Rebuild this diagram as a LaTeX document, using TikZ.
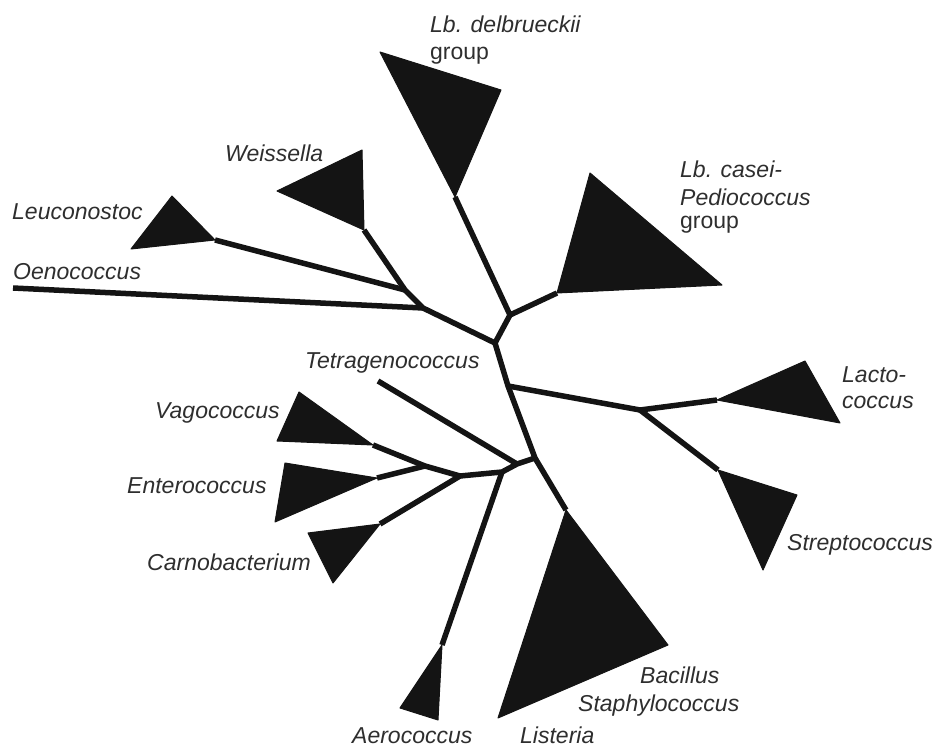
\documentclass[tikz,border=0pt]{standalone}
\usepackage{fontspec}
\setmainfont{Liberation Sans}
\begin{document}
\begin{tikzpicture}[x=1pt,y=-1pt,
  branch/.style={line width=5.5pt,draw=black!92,line cap=butt,line join=round},
  clade/.style={fill=black!92,draw=black!92,line width=1pt,line join=round},
  lab/.style={anchor=base west,inner sep=0pt,text=black!82,font=\fontsize{23}{28}\selectfont\itshape},
  labu/.style={anchor=base west,inner sep=0pt,text=black!82,font=\fontsize{23}{28}\selectfont}]
\useasboundingbox (0,0) rectangle (938,746);
% junctions
\coordinate (Jdel) at (510,315);
\coordinate (Jtop) at (495,343);
\coordinate (Joen) at (423,308);
\coordinate (Jleu) at (405,290);
\coordinate (Jlac) at (508,386);
\coordinate (Jlow) at (535,458);
\coordinate (Jt) at (517,464);
\coordinate (Ja) at (502,472);
\coordinate (Jec) at (460,476);
\coordinate (Jve) at (425,466);
\coordinate (Jls) at (640,410);
% clade attach points
\coordinate (W) at (364,230);
\coordinate (L) at (215,240);
\coordinate (O) at (13,288);
\coordinate (D) at (455,197);
\coordinate (C) at (557,293);
\coordinate (Lac) at (717,400);
\coordinate (Str) at (718,470);
\coordinate (B) at (566,510);
\coordinate (Ae) at (442,645);
\coordinate (Ca) at (380,524);
\coordinate (En) at (377,478);
\coordinate (Va) at (373,445);
\coordinate (Te) at (378,381);
% triangles
\fill[clade] (L) -- (172,196) -- (131,249) -- cycle;
\fill[clade] (W) -- (362,150) -- (277,191) -- cycle;
\fill[clade] (D) -- (380,52) -- (501,90) -- cycle;
\fill[clade] (C) -- (590,173) -- (722,285) -- cycle;
\fill[clade] (Lac) -- (805,361) -- (840,423) -- cycle;
\fill[clade] (Str) -- (797,495) -- (763,570) -- cycle;
\fill[clade] (B) -- (668,645) -- (498,718) -- cycle;
\fill[clade] (Ae) -- (438,720) -- (400,708) -- cycle;
\fill[clade] (Ca) -- (333,583) -- (308,533) -- cycle;
\fill[clade] (En) -- (285,463) -- (275,522) -- cycle;
\fill[clade] (Va) -- (299,392) -- (277,441) -- cycle;
% branches
\draw[branch] (D) -- (Jdel) -- (C);
\draw[branch] (Jdel) -- (Jtop) -- (Jlac) -- (Jlow) -- (B);
\draw[branch] (W) -- (Jleu) -- (Joen) -- (Jtop);
\draw[branch] (L) -- (Jleu);
\draw[branch] (O) -- (Joen);
\draw[branch] (Jlac) -- (Jls) -- (Lac);
\draw[branch] (Jls) -- (Str);
\draw[branch] (Jlow) -- (Jt) -- (Ja) -- (Jec) -- (Jve) -- (Va);
\draw[branch] (Te) -- (Jt);
\draw[branch] (Ja) -- (Ae);
\draw[branch] (Jec) -- (Ca);
\draw[branch] (Jve) -- (En);
% labels
\node[lab] (tdel) at (430,33) {Lb. delbrueckii};
\node[labu] (tdelg) at (430,60) {group};
\node[lab] (twei) at (225,162) {Weissella};
\node[lab] (tleu) at (12,220) {Leuconostoc};
\node[lab] (toen) at (13,280) {Oenococcus};
\node[lab] (tcas) at (680,178) {Lb. casei-};
\node[lab] (tped) at (680,206) {Pediococcus};
\node[labu] (tcasg) at (680,229) {group};
\node[lab] (ttet) at (305,369) {Tetragenococcus};
\node[lab] (tlac1) at (842,382) {Lacto-};
\node[lab] (tlac2) at (842,408) {coccus};
\node[lab] (tstr) at (787,550) {Streptococcus};
\node[lab] (tvag) at (155,418) {Vagococcus};
\node[lab] (tent) at (127,493) {Enterococcus};
\node[lab] (tcar) at (147,570) {Carnobacterium};
\node[lab] (tbac) at (640,683) {Bacillus};
\node[lab] (tsta) at (578,711) {Staphylococcus};
\node[lab] (taer) at (352,743) {Aerococcus};
\node[lab] (tlis) at (520,743) {Listeria};
\end{tikzpicture}
\end{document}
